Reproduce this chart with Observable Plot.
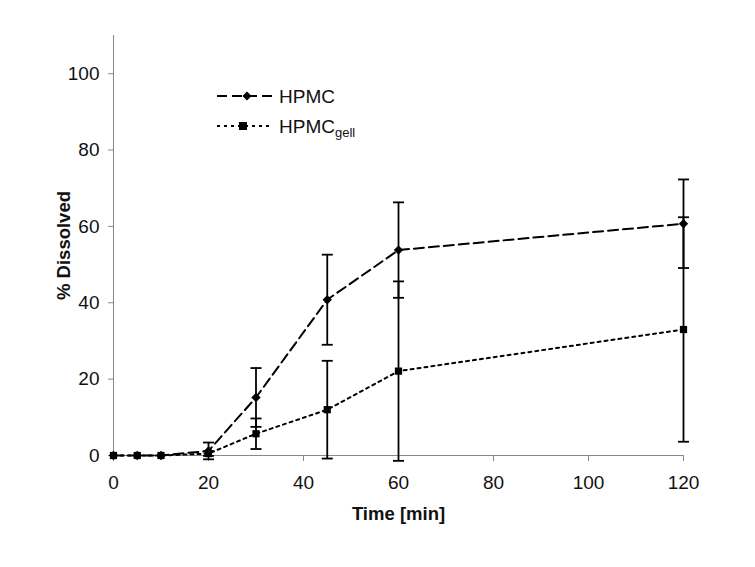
<!DOCTYPE html>
<html>
<head>
<meta charset="utf-8">
<script src="https://cdn.jsdelivr.net/npm/d3@7"></script>
<script src="https://cdn.jsdelivr.net/npm/@observablehq/plot@0.6"></script>
<style>
  body { margin: 0; background: #fff; font-family: Arial, "Liberation Sans", sans-serif; }
  #wrap { position: relative; width: 755px; height: 567px; }
  #legend { position: absolute; left: 0; top: 0; pointer-events: none; }
</style>
</head>
<body>
<div id="wrap"></div>
<script>
// Data
const times   = [0, 5, 10, 20, 30, 45, 60, 120];
const hpmc    = [0, 0, 0, 1.2, 15.2, 40.8, 53.8, 60.7];
const hpmcSd  = [0, 0, 0, 2.2, 7.7, 11.8, 12.5, 11.6];
const gell    = [0, 0, 0, 0.5, 5.7, 12.0, 22.1, 33.0];
const gellSd  = [0, 0, 0, 0.6, 4.0, 12.8, 23.5, 29.4];
const xTicks  = [0, 20, 40, 60, 80, 100, 120];
const yTicks  = [0, 20, 40, 60, 80, 100];

const rows = (vals, sds, name) => times.map((t, i) => ({t, v: vals[i], sd: sds[i], name}));
const A = rows(hpmc, hpmcSd, "HPMC");
const B = rows(gell, gellSd, "HPMCgell");
const errs = [...A, ...B].filter(d => d.sd > 0);

const cap = {draw(ctx, size) { const w = Math.sqrt(size / Math.PI); ctx.moveTo(-w, 0); ctx.lineTo(w, 0); }};
const font = 'Arial, "Liberation Sans", sans-serif';

const chart = Plot.plot({
  width: 755, height: 567,
  marginLeft: 113, marginRight: 72, marginTop: 35, marginBottom: 112,
  style: {fontFamily: font, fontSize: "19px", color: "#111", background: "#fff"},
  x: {domain: [0, 120]},
  y: {domain: [0, 110]},
  marks: [
    Plot.ruleX([0], {stroke: "#888", strokeWidth: 1}),
    Plot.ruleY([0], {stroke: "#888", strokeWidth: 1}),
    Plot.axisX(xTicks, {tickSize: 6, tickPadding: 14, stroke: "#888", fill: "#111", label: null, fontSize: 19}),
    Plot.axisY(yTicks, {tickSize: 5, tickPadding: 9, stroke: "#888", fill: "#111", label: null, fontSize: 19}),
    Plot.text(["Time [min]"], {frameAnchor: "bottom", dy: 59, lineAnchor: "middle", textAnchor: "middle", fontWeight: "bold", fontSize: 18.5, fill: "#111"}),
    Plot.text(["% Dissolved"], {frameAnchor: "left", dx: -49, rotate: -90, textAnchor: "middle", lineAnchor: "middle", fontWeight: "bold", fontSize: 18.5, fill: "#111"}),
    Plot.line(A, {x: "t", y: "v", stroke: "#000", strokeWidth: 2, strokeDasharray: "10,5"}),
    Plot.line(B, {x: "t", y: "v", stroke: "#000", strokeWidth: 2, strokeDasharray: "3,4"}),
    Plot.ruleX(errs, {x: "t", y1: d => d.v - d.sd, y2: d => d.v + d.sd, stroke: "#000", strokeWidth: 1.8}),
    Plot.dot(errs, {x: "t", y: d => d.v + d.sd, symbol: cap, r: 5.5, stroke: "#000", strokeWidth: 1.8, fill: "none"}),
    Plot.dot(errs, {x: "t", y: d => d.v - d.sd, symbol: cap, r: 5.5, stroke: "#000", strokeWidth: 1.8, fill: "none"}),
    Plot.dot(A, {x: "t", y: "v", symbol: "diamond2", r: 4.2, fill: "#000", stroke: "none"}),
    Plot.dot(B, {x: "t", y: "v", symbol: "square2", r: 4.6, fill: "#000", stroke: "none"})
  ]
});
document.getElementById("wrap").appendChild(chart);

// Legend overlay
const NS = "http://www.w3.org/2000/svg";
const leg = document.createElementNS(NS, "svg");
leg.setAttribute("id", "legend");
leg.setAttribute("width", 755);
leg.setAttribute("height", 567);
leg.innerHTML = `
  <line x1="217" x2="275" y1="96" y2="96" stroke="#000" stroke-width="1.8" stroke-dasharray="10,5"/>
  <path d="M247,91.5L251.5,96L247,100.5L242.5,96Z" fill="#000"/>
  <text x="279" y="103" font-family='${font}' font-size="19" fill="#111">HPMC</text>
  <line x1="217" x2="273" y1="126" y2="126" stroke="#000" stroke-width="1.8" stroke-dasharray="3,4"/>
  <rect x="239" y="122" width="8" height="8" fill="#000"/>
  <text x="279" y="133" font-family='${font}' font-size="19" fill="#111">HPMC<tspan font-size="13" dy="4">gell</tspan></text>
`;
document.getElementById("wrap").appendChild(leg);
</script>
</body>
</html>
